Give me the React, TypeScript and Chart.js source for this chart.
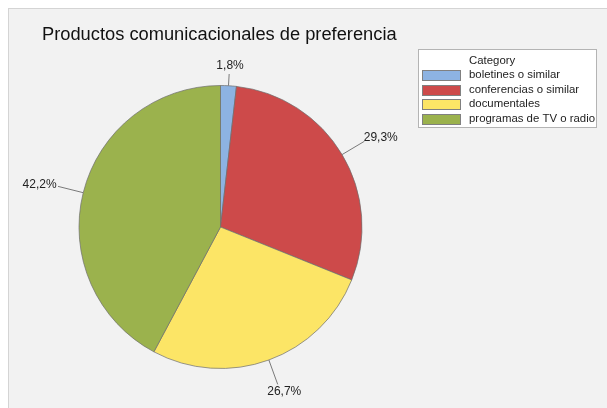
import { useEffect, useRef } from 'react';
import { Chart, registerables } from 'chart.js';

Chart.register(...registerables);

const chartTitle = 'Productos comunicacionales de preferencia';
const legendTitle = 'Category';
const categories = ['boletines o similar', 'conferencias o similar', 'documentales', 'programas de TV o radio'];
const values = [1.8, 29.3, 26.7, 42.2];
const colors = ['#8db3e2', '#cd4a4a', '#fce566', '#9bb24d'];

const W = 607;
const H = 408;
const FONT = '"Liberation Sans", Arial, Helvetica, sans-serif';

const fmt = (v: number) => v.toFixed(1).replace('.', ',') + '%';

const decor = {
  id: 'decor',
  beforeDraw(chart: any) {
    const c = chart.ctx;
    c.save();
    c.fillStyle = '#ffffff';
    c.fillRect(0, 0, W, H);
    c.fillStyle = '#f2f2f2';
    c.fillRect(8, 8, W, H);
    c.strokeStyle = '#d4d4d4';
    c.lineWidth = 1;
    c.strokeRect(8.5, 8.5, W + 10, H + 10);
    c.restore();
  },
  afterDraw(chart: any) {
    const c = chart.ctx;
    c.save();
    // title
    c.fillStyle = '#111';
    c.font = '18.3px ' + FONT;
    c.textBaseline = 'alphabetic';
    c.textAlign = 'left';
    c.fillText(chartTitle, 42, 40);

    // legend
    c.fillStyle = '#ffffff';
    c.fillRect(418.5, 49.5, 178, 78);
    c.strokeStyle = '#b4b4b4';
    c.lineWidth = 1;
    c.strokeRect(418.5, 49.5, 178, 78);
    c.font = '11.4px ' + FONT;
    c.textBaseline = 'middle';
    c.fillStyle = '#222';
    c.fillText(legendTitle, 469, 61);
    const labels = chart.data.labels as string[];
    const bg = chart.data.datasets[0].backgroundColor as string[];
    labels.forEach((lab, i) => {
      const cy = 75 + i * 14.5;
      c.fillStyle = bg[i];
      c.fillRect(422.5, Math.round(cy - 5) + 0.5, 38, 10);
      c.strokeStyle = '#808080';
      c.strokeRect(422.5, Math.round(cy - 5) + 0.5, 38, 10);
      c.fillStyle = '#222';
      c.fillText(lab, 469, cy);
    });

    // slice labels with leader lines
    const meta = chart.getDatasetMeta(0);
    const data = chart.data.datasets[0].data as number[];
    c.font = '12px ' + FONT;
    c.textAlign = 'center';
    c.textBaseline = 'middle';
    meta.data.forEach((arc: any, i: number) => {
      const p = arc.getProps(['x', 'y', 'startAngle', 'endAngle', 'outerRadius'], true);
      const mid = (p.startAngle + p.endAngle) / 2;
      const ux = Math.cos(mid);
      const uy = Math.sin(mid);
      const r = p.outerRadius;
      const text = fmt(data[i]);
      const tw = c.measureText(text).width;
      const th = 12;
      let len = r + 26;
      let tx = p.x + ux * len + ux * (tw / 2 + 2);
      let ty = p.y + uy * len + uy * (th / 2 + 2);
      const minY = 66;
      if (ty < minY) {
        ty = minY;
        const endY = minY + th / 2 + 2;
        len = (p.y - endY) / -uy;
        tx = p.x + ux * len + ux * (tw / 2 + 2);
      }
      c.strokeStyle = '#7a7a7a';
      c.lineWidth = 1;
      c.beginPath();
      c.moveTo(p.x + ux * r, p.y + uy * r);
      c.lineTo(p.x + ux * len, p.y + uy * len);
      c.stroke();
      c.fillStyle = '#222';
      c.fillText(text, tx, ty);
    });
    c.restore();
  },
};

export default function App() {
  const ref = useRef<HTMLCanvasElement>(null);
  useEffect(() => {
    if (!ref.current) return;
    const chart = new Chart(ref.current, {
      type: 'pie',
      data: {
        labels: categories,
        datasets: [
          {
            data: values,
            backgroundColor: colors,
            borderColor: 'rgba(110,110,110,0.7)',
            borderWidth: 1,
          },
        ],
      },
      options: {
        responsive: false,
        animation: false,
        devicePixelRatio: 1,
        layout: { padding: { left: 78, top: 85, right: 244, bottom: 39 } },
        plugins: {
          legend: { display: false },
          title: { display: false },
          tooltip: { enabled: false },
        },
      },
      plugins: [decor],
    });
    return () => chart.destroy();
  }, []);
  return (
    <div style={{ position: 'fixed', left: 0, top: 0, width: W, height: H }}>
      <canvas ref={ref} width={W} height={H} style={{ width: W, height: H, display: 'block' }} />
    </div>
  );
}
